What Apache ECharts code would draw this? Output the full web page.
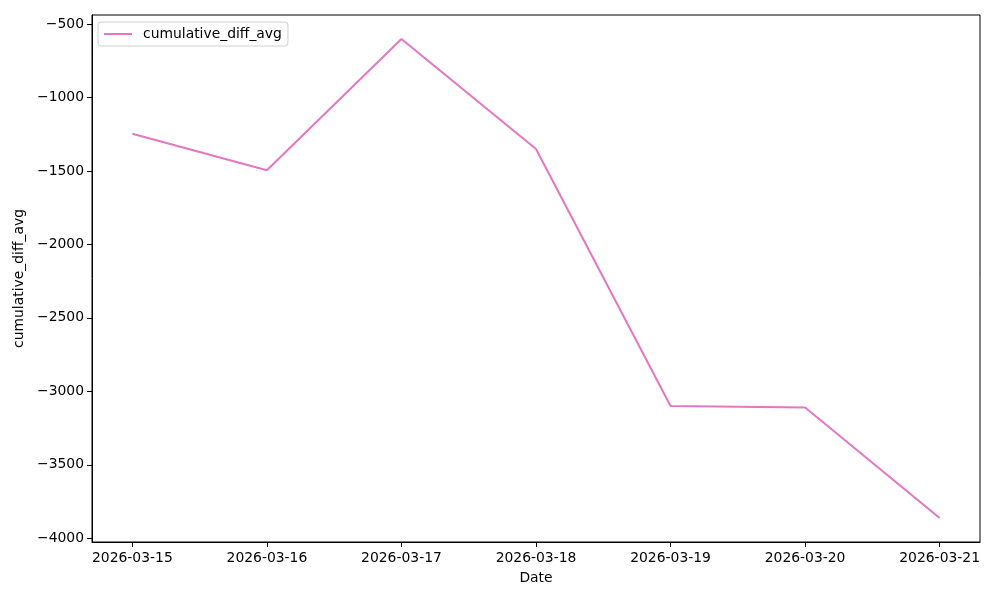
<!DOCTYPE html>
<html>
<head>
<meta charset="utf-8">
<script src="https://cdn.jsdelivr.net/npm/echarts@6/dist/echarts.min.js"></script>
<style>html,body{margin:0;padding:0;background:#fff}#c{width:1000px;height:600px}</style>
</head>
<body>
<div id="c"></div>
<script>
const dates = ['2026-03-15','2026-03-16','2026-03-17','2026-03-18','2026-03-19','2026-03-20','2026-03-21'];
const cumulativeDiffAvg = [-1247, -1496, -602, -1351, -3099, -3110, -3862];
const seriesName = 'cumulative_diff_avg';
const yTicks = [-4000, -3500, -3000, -2500, -2000, -1500, -1000, -500];

const FONT = 'DejaVu Sans';
const FS = 13.9;
const chart = echarts.init(document.getElementById('c'), null, {renderer: 'canvas'});
const lo = Math.min(...cumulativeDiffAvg), hi = Math.max(...cumulativeDiffAvg);
const pad = (hi - lo) * 0.05;
const xTicks = dates.map((d, i) => i);
const fmtNum = v => String(v).replace('-', '\u2212');

chart.setOption({
  animation: false,
  backgroundColor: '#fff',
  grid: {left: 92, right: 20, top: 15, bottom: 58, show: true, borderColor: '#000', borderWidth: 1, backgroundColor: 'transparent'},
  legend: {
    left: 98, top: 22,
    data: [{name: seriesName, icon: 'rect'}],
    itemWidth: 28, itemHeight: 2,
    padding: [5, 6, 5, 6],
    backgroundColor: 'rgba(255,255,255,0.8)',
    borderColor: '#d0d0d0', borderWidth: 1, borderRadius: 3,
    textStyle: {fontFamily: FONT, fontSize: FS, color: '#000', padding: [0, 0, 0, 6]}
  },
  xAxis: {
    type: 'value',
    min: -0.3, max: dates.length - 1 + 0.3,
    name: 'Date', nameLocation: 'middle', nameGap: 29,
    nameTextStyle: {fontFamily: FONT, fontSize: FS, color: '#000'},
    axisLine: {show: true, onZero: false, lineStyle: {color: '#000', width: 1}},
    axisTick: {show: true, length: 5, lineStyle: {color: '#000'}, customValues: xTicks},
    splitLine: {show: false},
    axisLabel: {
      fontFamily: FONT, fontSize: FS, color: '#000', margin: 9,
      customValues: xTicks,
      formatter: v => dates[Math.round(v)]
    }
  },
  yAxis: {
    type: 'value',
    min: lo - pad, max: hi + pad,
    name: seriesName, nameLocation: 'middle', nameGap: 60, nameRotate: 90,
    nameTextStyle: {fontFamily: FONT, fontSize: FS, color: '#000'},
    axisLine: {show: true, onZero: false, lineStyle: {color: '#000', width: 1}},
    axisTick: {show: true, length: 5, lineStyle: {color: '#000'}, customValues: yTicks},
    splitLine: {show: false},
    axisLabel: {
      fontFamily: FONT, fontSize: FS, color: '#000', margin: 8,
      customValues: yTicks,
      formatter: v => fmtNum(v)
    }
  },
  series: [{
    name: seriesName,
    type: 'line',
    data: cumulativeDiffAvg.map((v, i) => [i, v]),
    showSymbol: false,
    symbol: 'none',
    lineStyle: {color: '#e377c2', width: 2},
    itemStyle: {color: '#e377c2'}
  }]
});
</script>
</body>
</html>
